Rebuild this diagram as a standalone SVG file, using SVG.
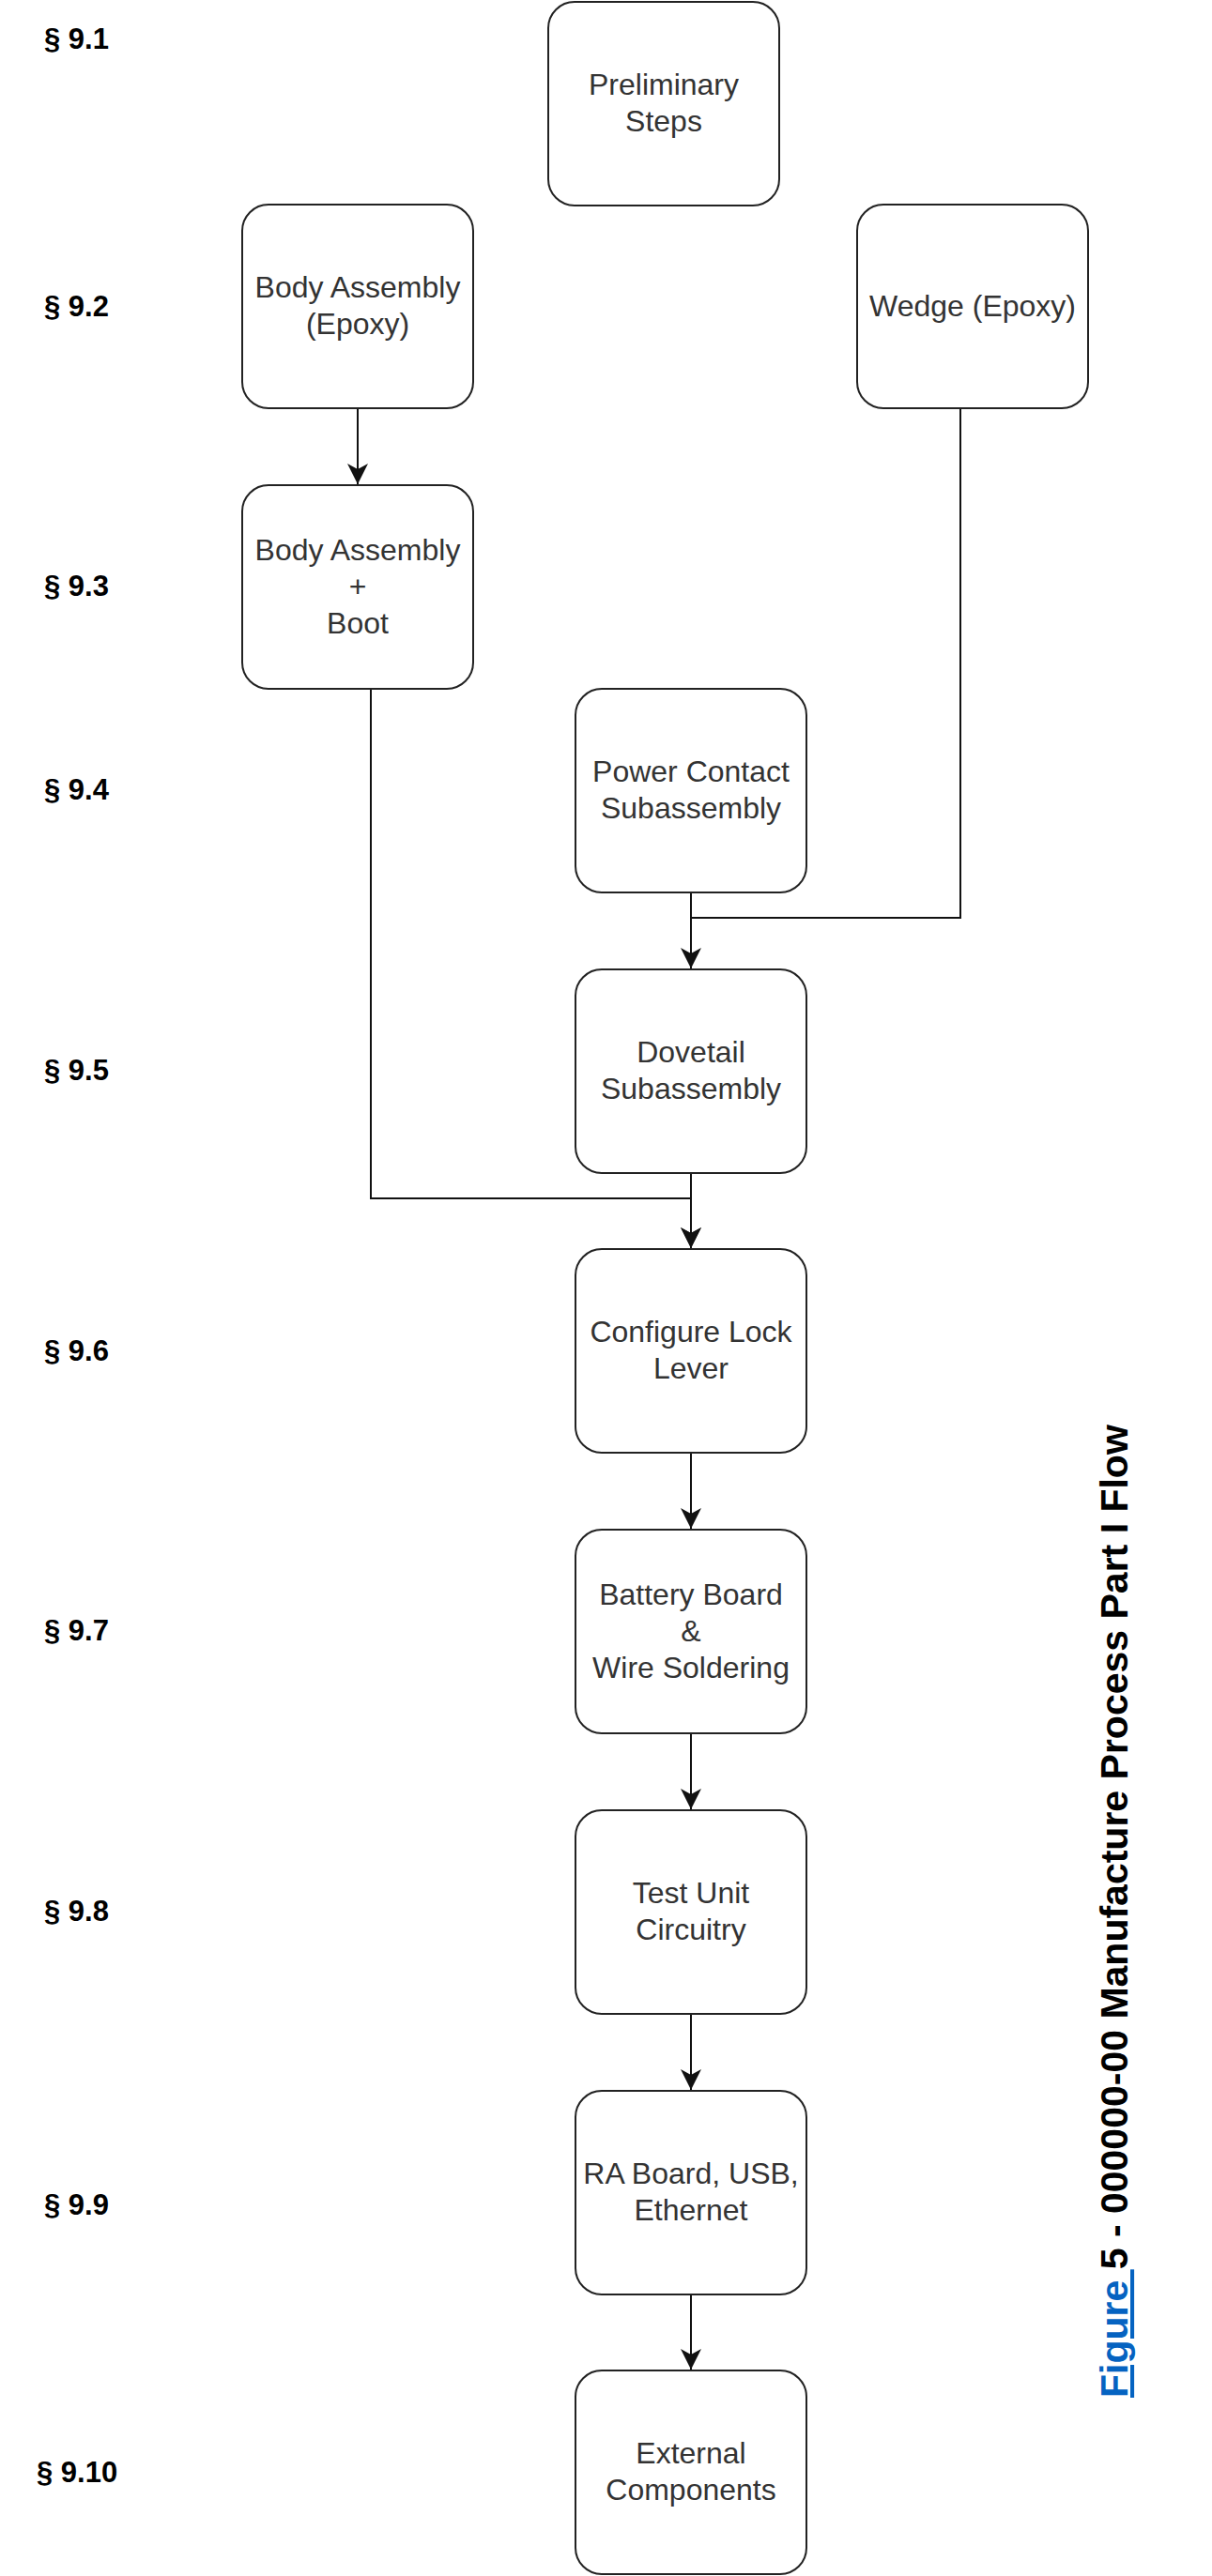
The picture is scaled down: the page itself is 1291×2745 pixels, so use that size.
<svg xmlns="http://www.w3.org/2000/svg" width="1291" height="2745" viewBox="0 0 1291 2745">
  <style>
    .box { fill: #ffffff; stroke: #222222; stroke-width: 2; }
    .lbl { font-family: "Liberation Sans", Arial, sans-serif; font-size: 32px; fill: #333333; text-anchor: middle; }
    .sec { font-family: "Liberation Sans", Arial, sans-serif; font-size: 31px; font-weight: bold; fill: #000000; }
    .edge { fill: none; stroke: #111111; stroke-width: 2; }
    .cap { font-family: "Liberation Sans", Arial, sans-serif; font-size: 41px; font-weight: bold; fill: #000000; }
    .link { fill: #0563C1; text-decoration: underline; }
  </style>
  <defs>
    <marker id="arrow" markerUnits="userSpaceOnUse" markerWidth="22" markerHeight="22" viewBox="0 0 22 22" refX="22" refY="11" orient="auto">
      <path d="M0,0 L22,11 L0,22 L6,11 Z" fill="#111111"/>
    </marker>
  </defs>
  <rect width="1291" height="2745" fill="#ffffff"/>

  <g id="section-labels">
    <text class="sec" x="47" y="52">§ 9.1</text>
    <text class="sec" x="47" y="337">§ 9.2</text>
    <text class="sec" x="47" y="635">§ 9.3</text>
    <text class="sec" x="47" y="852">§ 9.4</text>
    <text class="sec" x="47" y="1151">§ 9.5</text>
    <text class="sec" x="47" y="1450">§ 9.6</text>
    <text class="sec" x="47" y="1748">§ 9.7</text>
    <text class="sec" x="47" y="2047">§ 9.8</text>
    <text class="sec" x="47" y="2360">§ 9.9</text>
    <text class="sec" x="39" y="2645">§ 9.10</text>
  </g>

  <g id="connectors">
    <path class="edge" d="M381,436 V516" marker-end="url(#arrow)"/>
    <path class="edge" d="M395,735 V1277 H736 V1330" marker-end="url(#arrow)"/>
    <path class="edge" d="M1023,436 V978 H736"/>
    <path class="edge" d="M736,951 V1032" marker-end="url(#arrow)"/>
    <path class="edge" d="M736,1250 V1330" marker-end="url(#arrow)"/>
    <path class="edge" d="M736,1548 V1629" marker-end="url(#arrow)"/>
    <path class="edge" d="M736,1847 V1928" marker-end="url(#arrow)"/>
    <path class="edge" d="M736,2146 V2227" marker-end="url(#arrow)"/>
    <path class="edge" d="M736,2445 V2525" marker-end="url(#arrow)"/>
  </g>

  <g id="node-preliminary">
    <rect class="box" x="584" y="2" width="246" height="217" rx="28"/>
    <text class="lbl" x="707" y="101">Preliminary</text>
    <text class="lbl" x="707" y="140">Steps</text>
  </g>
  <g id="node-body-epoxy">
    <rect class="box" x="258" y="218" width="246" height="217" rx="28"/>
    <text class="lbl" x="381" y="317">Body Assembly</text>
    <text class="lbl" x="381" y="356">(Epoxy)</text>
  </g>
  <g id="node-wedge">
    <rect class="box" x="913" y="218" width="246" height="217" rx="28"/>
    <text class="lbl" x="1036" y="336.5">Wedge (Epoxy)</text>
  </g>
  <g id="node-body-boot">
    <rect class="box" x="258" y="517" width="246" height="217" rx="28"/>
    <text class="lbl" x="381" y="596.5">Body Assembly</text>
    <text class="lbl" x="381" y="635.5">+</text>
    <text class="lbl" x="381" y="674.5">Boot</text>
  </g>
  <g id="node-power-contact">
    <rect class="box" x="613" y="734" width="246" height="217" rx="28"/>
    <text class="lbl" x="736" y="833">Power Contact</text>
    <text class="lbl" x="736" y="872">Subassembly</text>
  </g>
  <g id="node-dovetail">
    <rect class="box" x="613" y="1033" width="246" height="217" rx="28"/>
    <text class="lbl" x="736" y="1132">Dovetail</text>
    <text class="lbl" x="736" y="1171">Subassembly</text>
  </g>
  <g id="node-lock-lever">
    <rect class="box" x="613" y="1331" width="246" height="217" rx="28"/>
    <text class="lbl" x="736" y="1430">Configure Lock</text>
    <text class="lbl" x="736" y="1469">Lever</text>
  </g>
  <g id="node-battery">
    <rect class="box" x="613" y="1630" width="246" height="217" rx="28"/>
    <text class="lbl" x="736" y="1709.5">Battery Board</text>
    <text class="lbl" x="736" y="1748.5">&amp;</text>
    <text class="lbl" x="736" y="1787.5">Wire Soldering</text>
  </g>
  <g id="node-test-unit">
    <rect class="box" x="613" y="1929" width="246" height="217" rx="28"/>
    <text class="lbl" x="736" y="2028">Test Unit</text>
    <text class="lbl" x="736" y="2067">Circuitry</text>
  </g>
  <g id="node-ra-board">
    <rect class="box" x="613" y="2228" width="246" height="217" rx="28"/>
    <text class="lbl" x="736" y="2327">RA Board, USB,</text>
    <text class="lbl" x="736" y="2366">Ethernet</text>
  </g>
  <g id="node-external">
    <rect class="box" x="613" y="2526" width="246" height="217" rx="28"/>
    <text class="lbl" x="736" y="2625">External</text>
    <text class="lbl" x="736" y="2664">Components</text>
  </g>

  <g id="caption">
    <text class="cap" transform="translate(1201,2555) rotate(-90)"><tspan class="link">Figure </tspan>5 - 000000-00 Manufacture Process Part I Flow</text>
  </g>
</svg>
